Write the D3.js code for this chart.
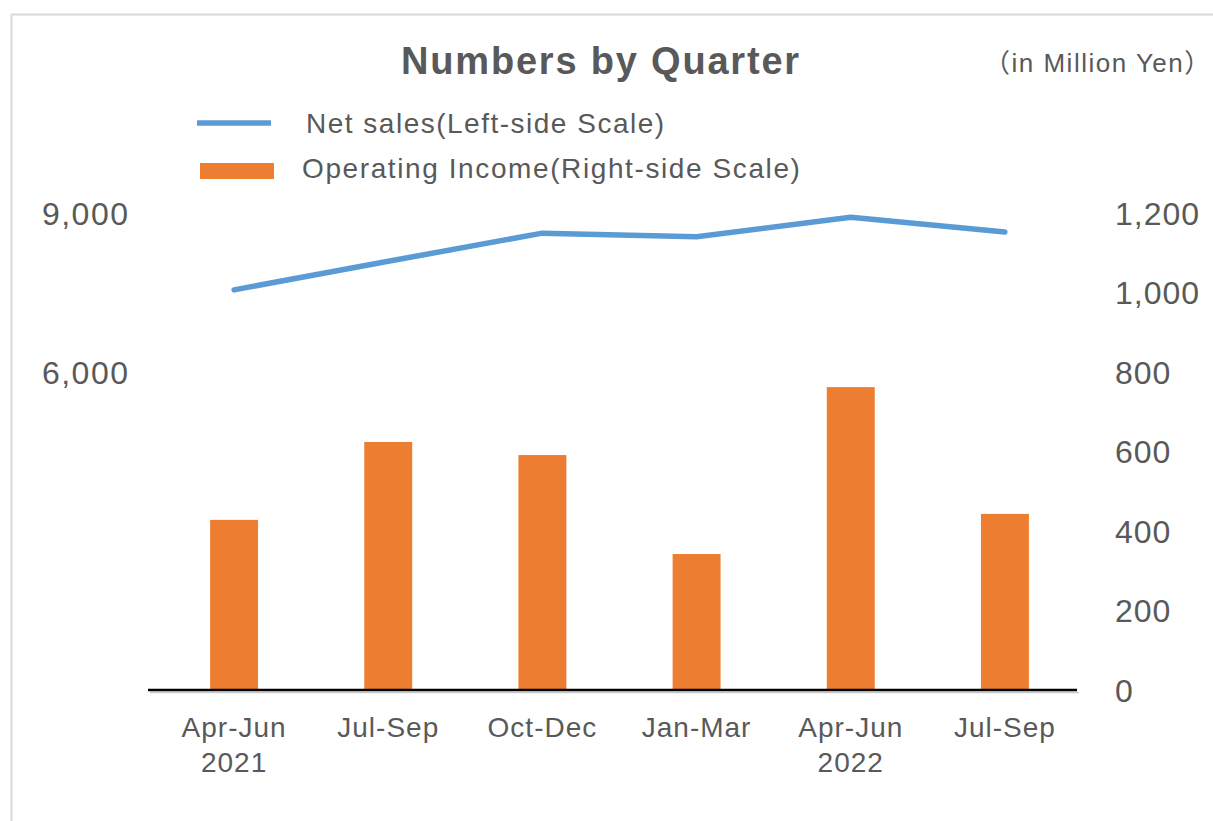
<!DOCTYPE html>
<html><head><meta charset="utf-8">
<script src="https://cdn.jsdelivr.net/npm/d3@7"></script>
<style>
html,body{margin:0;padding:0;background:#fff;}
svg text{font-family:Arial,"Liberation Sans",sans-serif;fill:#595959;}
</style></head>
<body><svg id="c" width="1213" height="821"></svg>
<script>
const categories = ["Apr-Jun|2021","Jul-Sep","Oct-Dec","Jan-Mar","Apr-Jun|2022","Jul-Sep"];
const netSales = [7550, 8090, 8620, 8550, 8920, 8640];
const operatingIncome = [428, 624, 591, 342, 762, 443];
const leftTicks = [6000, 9000];
const rightTicks = [0, 200, 400, 600, 800, 1000, 1200];
const title = "Numbers by Quarter";
const unitLabel = "（in Million Yen）";
const legendLabels = ["Net sales(Left-side Scale)", "Operating Income(Right-side Scale)"];

const svg = d3.select("#c");
const blue = "#5B9BD5", orange = "#ED7D31";

// outer border
svg.append("path").attr("d","M11.5,821 L11.5,14.5 L1213,14.5")
  .attr("fill","none").attr("stroke","#d9d9d9").attr("stroke-width",2);

const x = d3.scaleBand().domain(d3.range(categories.length)).range([157,1082])
  .paddingInner(0.689).paddingOuter(0.3445);
const yL = d3.scaleLinear().domain([0,9000]).range([690,213]);
const yR = d3.scaleLinear().domain([0,1200]).range([690,213]);

// title
svg.append("text").attr("x",601).attr("y",74).attr("text-anchor","middle")
  .style("font-size","38px").style("font-weight","bold").style("letter-spacing","1.8px")
  .text(title);
svg.append("text").attr("x",984).attr("y",72)
  .style("font-size","26px").style("letter-spacing","1.5px")
  .style("font-family","Arial,'Liberation Sans','Noto Sans CJK JP',sans-serif")
  .text(unitLabel);

// legend
svg.append("line").attr("x1",197).attr("x2",271).attr("y1",123).attr("y2",123)
  .attr("stroke",blue).attr("stroke-width",5.5);
svg.append("rect").attr("x",200).attr("y",163).attr("width",74).attr("height",16).attr("fill",orange);
svg.append("text").attr("x",306).attr("y",133).style("font-size","28px").style("letter-spacing","1.5px").text(legendLabels[0]);
svg.append("text").attr("x",302).attr("y",178).style("font-size","28px").style("letter-spacing","1.6px").text(legendLabels[1]);

// bars
svg.append("g").selectAll("rect").data(operatingIncome).join("rect")
  .attr("x",(d,i)=>x(i)).attr("width",x.bandwidth())
  .attr("y",d=>yR(d)).attr("height",d=>yR(0)-yR(d)).attr("fill",orange);

// axis baseline
svg.append("line").attr("x1",150).attr("x2",1079).attr("y1",692.5).attr("y2",692.5)
  .attr("stroke","#c8c8c8").attr("stroke-width",1.5);
svg.append("line").attr("x1",148).attr("x2",1077).attr("y1",690).attr("y2",690)
  .attr("stroke","#000").attr("stroke-width",2.5);

// line
const line = d3.line().x((d,i)=>x(i)+x.bandwidth()/2).y(d=>yL(d));
svg.append("path").datum(netSales).attr("d",line).attr("fill","none")
  .attr("stroke",blue).attr("stroke-width",5.5).attr("stroke-linecap","round").attr("stroke-linejoin","round");

// left axis
const fmt = d3.format(",");
const gL = svg.append("g").attr("transform","translate(129.5,0)")
  .call(d3.axisLeft(yL).tickValues(leftTicks).tickFormat(fmt).tickSize(0).tickPadding(0));
gL.select(".domain").remove();
gL.selectAll("text").style("font-size","32px").style("letter-spacing","1.5px").style("fill","#595959")
  .attr("font-family",null).attr("dy","0.35em");

// right axis
const gR = svg.append("g").attr("transform","translate(1115,0)")
  .call(d3.axisRight(yR).tickValues(rightTicks).tickFormat(fmt).tickSize(0).tickPadding(0));
gR.select(".domain").remove();
gR.selectAll("text").style("font-size","32px").style("letter-spacing","1px").style("fill","#595959")
  .attr("font-family",null).attr("dy","0.35em");

// category labels
const gX = svg.append("g").attr("transform","translate(0,690)")
  .call(d3.axisBottom(x).tickSize(0).tickFormat(()=>""));
gX.select(".domain").remove();
gX.selectAll(".tick").each(function(d){
  const parts = categories[d].split("|");
  const t = d3.select(this).append("text").attr("text-anchor","middle")
    .style("font-size","28px").style("letter-spacing","1px");
  parts.forEach((p,k)=>t.append("tspan").attr("x",0).attr("y",47+k*35).text(p));
});
</script></body></html>
